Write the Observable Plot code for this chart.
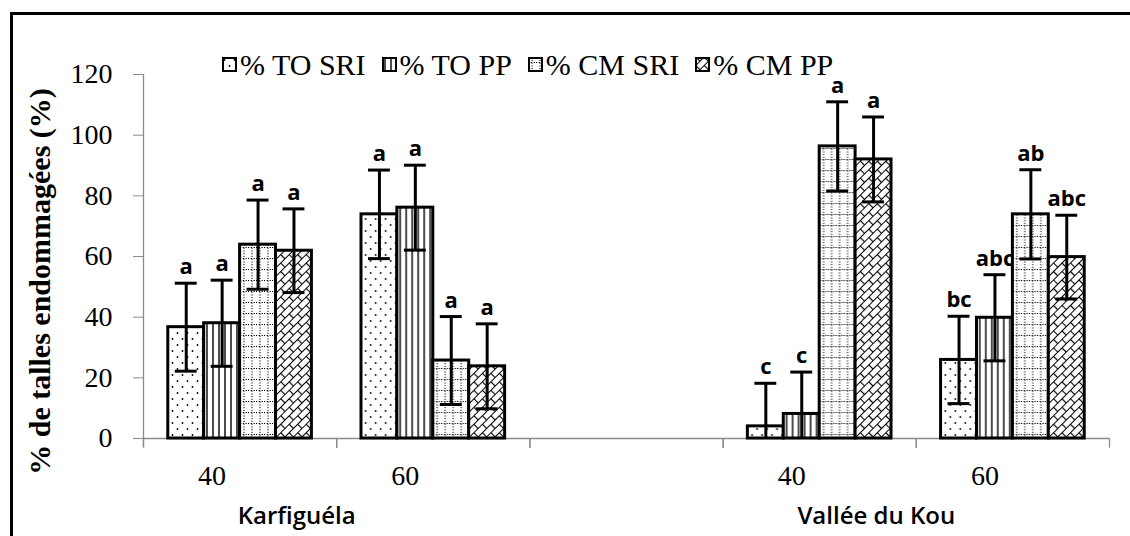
<!DOCTYPE html>
<html>
<head>
<meta charset="utf-8">
<script src="https://cdn.jsdelivr.net/npm/d3@7"></script>
<script src="https://cdn.jsdelivr.net/npm/@observablehq/plot@0.6"></script>
<style>
html, body { margin: 0; padding: 0; width: 1130px; height: 536px; overflow: hidden; background: #fff; }
#wrap { position: relative; width: 1130px; height: 536px; overflow: hidden; }
#chart { position: absolute; left: 0; top: 0; }
#border { position: absolute; left: 10px; top: 12px; width: 1300px; height: 800px; border: 3px solid #000; pointer-events: none; }
#legend { position: absolute; left: 222px; top: 52px; display: flex; gap: 16px; white-space: nowrap;
  font-family: "Liberation Serif", serif; font-size: 30px; line-height: 26px; color: #000; }
.item { display: flex; align-items: center; }
.item svg { margin-right: 3px; margin-top: -2px; }
</style>
</head>
<body>
<svg width="0" height="0" style="position:absolute">
  <defs>
    <pattern id="pTOSRI" width="10" height="12" patternUnits="userSpaceOnUse">
      <rect width="10" height="12" fill="#fff"/>
      <circle cx="2.5" cy="3" r="0.9" fill="#000"/>
      <circle cx="7.5" cy="9" r="0.9" fill="#000"/>
    </pattern>
    <pattern id="pTOPP" width="6" height="6" patternUnits="userSpaceOnUse">
      <rect width="6" height="6" fill="#fff"/>
      <line x1="3" y1="0" x2="3" y2="6" stroke="#000" stroke-width="1.4"/>
    </pattern>
    <pattern id="pCMSRI" width="8" height="11" patternUnits="userSpaceOnUse">
      <rect width="8" height="11" fill="#fff"/>
      <line x1="4" y1="0" x2="4" y2="11" stroke="#000" stroke-width="1" stroke-dasharray="1.2 1.6"/>
      <line x1="0" y1="5.5" x2="8" y2="5.5" stroke="#000" stroke-width="1" stroke-dasharray="1.2 1.6"/>
    </pattern>
    <pattern id="pCMPP" width="12" height="12" patternUnits="userSpaceOnUse" patternTransform="rotate(-45)">
      <rect width="12" height="12" fill="#fff"/>
      <path d="M0,0.5H12 M0,6.5H12 M0.5,0.5V6.5 M6.5,6.5V12.5" stroke="#000" stroke-width="1.2" fill="none"/>
    </pattern>
  </defs>
</svg>
<div id="wrap">
  <div id="chart"></div>
  <div id="legend"></div>
  <div id="border"></div>
</div>
<script>
// ---- data ----
const categoryKeys = ["K-40", "K-60", "gap", "V-40", "V-60"];
const categoryLabels = ["40", "60", "", "40", "60"];
const dataCategories = ["K-40", "K-60", "V-40", "V-60"];
const siteLabels = ["Karfiguéla", "Vallée du Kou"];
const siteFirstCategory = ["K-40", "V-40"];
const series = ["% TO SRI", "% TO PP", "% CM SRI", "% CM PP"];

const toSRI = [36.7, 73.9, 4.0, 25.9];
const toPP  = [38.0, 76.1, 8.1, 39.8];
const cmSRI = [63.9, 25.7, 96.3, 73.9];
const cmPP  = [61.9, 23.8, 92.0, 59.8];

const errTOSRI = [14.5, 14.6, 14.2, 14.4];
const errTOPP  = [14.2, 14.0, 13.8, 14.2];
const errCMSRI = [14.7, 14.5, 14.7, 14.7];
const errCMPP  = [13.8, 14.0, 14.0, 13.8];

const letTOSRI = ["a", "a", "c", "bc"];
const letTOPP  = ["a", "a", "c", "abc"];
const letCMSRI = ["a", "a", "a", "ab"];
const letCMPP  = ["a", "a", "a", "abc"];

const yTicks = [0, 20, 40, 60, 80, 100, 120];
const yTitle = "% de talles endommagées (%)";
const patternFills = ["url(#pTOSRI)", "url(#pTOPP)", "url(#pCMSRI)", "url(#pCMPP)"];

// ---- table ----
const valueSets = [toSRI, toPP, cmSRI, cmPP];
const errSets = [errTOSRI, errTOPP, errCMSRI, errCMPP];
const letSets = [letTOSRI, letTOPP, letCMSRI, letCMPP];
const rows = [];
series.forEach((s, si) => dataCategories.forEach((c, ci) => {
  const v = valueSets[si][ci], e = errSets[si][ci];
  rows.push({cat: c, series: s, value: v, lo: Math.max(0, v - e), hi: v + e, letter: letSets[si][ci]});
}));

// ---- layout ----
const W = 1130, H = 536, ML = 143, MR = 21, MT = 74, MB = 98;
const PAD = 0.69;
const fxW = (W - ML - MR) / categoryKeys.length;
const step = fxW / (series.length + 2 * PAD);
const edge = (PAD + 0.5) * step;
const gray = "#8c8c8c";

const plot = Plot.plot({
  width: W, height: H,
  marginLeft: ML, marginRight: MR, marginTop: MT, marginBottom: MB,
  style: {background: "transparent", overflow: "visible"},
  fx: {domain: categoryKeys, padding: 0, round: false, axis: null, label: null},
  x: {domain: series, paddingInner: 0, paddingOuter: PAD, round: false, axis: null, label: null},
  y: {domain: [0, 120], axis: null, label: null},
  color: {type: "ordinal", domain: series, range: patternFills},
  marks: [
    Plot.axisY({ticks: yTicks, tickSize: 10, tickPadding: 21, stroke: gray, fill: "#000",
      fontSize: 28, fontFamily: "Liberation Serif", label: null}),
    // y axis line
    Plot.ruleX([series[0]], {fx: () => categoryKeys[0], x: d => d, dx: -edge, y1: -3, y2: 120, stroke: gray, strokeWidth: 1.3}),
    // x axis line and category boundary ticks
    Plot.ruleY([0], {stroke: gray, strokeWidth: 1.5}),
    Plot.ruleX([series[0]], {x: d => d, dx: -edge, y1: 0, y2: -3.2, stroke: gray, strokeWidth: 1.3}),
    Plot.ruleX([series[series.length - 1]], {x: d => d, dx: edge, y1: 0, y2: -3.2, stroke: gray, strokeWidth: 1.3}),
    // bars
    Plot.barY(rows, {fx: "cat", x: "series", y: "value", fill: "series", stroke: "#000", strokeWidth: 3}),
    // error bars
    Plot.ruleX(rows, {fx: "cat", x: "series", y1: "lo", y2: "hi", stroke: "#000", strokeWidth: 3}),
    Plot.tickY(rows, {fx: "cat", x: "series", y: "hi", inset: 7, stroke: "#000", strokeWidth: 3}),
    Plot.tickY(rows.filter(d => d.lo > 0), {fx: "cat", x: "series", y: "lo", inset: 7, stroke: "#000", strokeWidth: 3}),
    // significance letters
    Plot.text(rows, {fx: "cat", x: "series", y: "hi", text: "letter", dy: -16,
      fontSize: 22, fontWeight: "bold", fontFamily: "Open Sans", fill: "#000"}),
    // category labels
    Plot.text(categoryKeys, {fx: d => d, text: (d, i) => categoryLabels[i], frameAnchor: "bottom", dx: -28, dy: 46,
      fontSize: 28, fontFamily: "Liberation Serif", fill: "#000"}),
    // site labels
    Plot.text(siteLabels, {fx: (d, i) => siteFirstCategory[i], text: d => d, frameAnchor: "bottom-right", dx: -40, dy: 85,
      textAnchor: "middle", fontSize: 24, fontWeight: 600, fontFamily: "Open Sans", fill: "#000"}),
    // y title
    Plot.text([yTitle], {fx: () => categoryKeys[0], text: d => d, frameAnchor: "left", textAnchor: "middle", rotate: -90, dx: -103, dy: 25,
      fontSize: 30, fontWeight: "bold", fontFamily: "Liberation Serif", fill: "#000"})
  ]
});
document.getElementById("chart").appendChild(plot);

// ---- legend ----
const legend = document.getElementById("legend");
series.forEach((s, i) => {
  const item = document.createElement("div");
  item.className = "item";
  item.innerHTML = `<svg width="15" height="15"><rect x="1" y="1" width="13" height="13" fill="${patternFills[i]}" stroke="#000" stroke-width="2"/></svg><span>${s}</span>`;
  legend.appendChild(item);
});
</script>
</body>
</html>
